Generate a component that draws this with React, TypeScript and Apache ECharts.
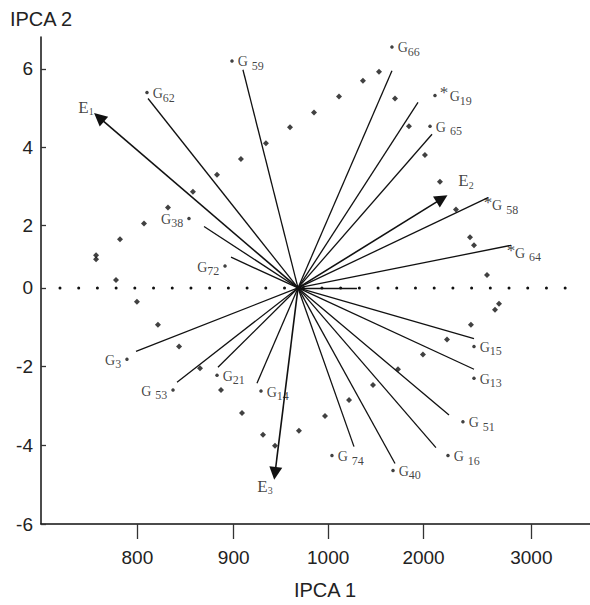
import React, { useEffect, useRef } from "react";
import * as echarts from "echarts";

// Axis ticks (the printed axis is not linear, so labels sit at fixed positions)
const xTickPos = [1.01, 2.02, 3.01, 4.01, 5.14];
const xTickLabels = ["800", "900", "1000", "2000", "3000"];
const yTickPos = [-6, -4, -2, 0, 1.59, 3.58, 5.57];
const yTickLabels = ["-6", "-4", "-2", "0", "2", "4", "6"];

// Biplot origin
const originX = 2.694;
const originY = 0;

// Genotypes
const gNames = ["G 59", "G62", "G38", "G72", "G66", "G19", "G 65", "G 58", "G 64", "G15", "G13", "G 51", "G 16", "G40", "G 74", "G3", "G 53", "G21", "G14"];
const gDotX = [2.002, 1.111, 1.551, 1.929, 3.679, 4.13, 4.078, 4.686, 4.927, 4.539, 4.539, 4.423, 4.266, 3.69, 3.05, 0.901, 1.384, 1.845, 2.306];
const gDotY = [5.77, 4.966, 1.765, 0.555, 6.126, 4.89, 4.109, 2.294, 1.084, -1.487, -2.294, -3.403, -4.26, -4.638, -4.26, -1.815, -2.596, -2.218, -2.622];
const gLineX = [2.117, 1.122, 1.709, 1.992, 3.679, 3.952, 4.099, 4.686, 4.927, 4.539, 4.539, 4.277, 4.14, 3.711, 3.281, 0.996, 1.426, 1.855, 2.264];
const gLineY = [5.546, 4.815, 1.563, 0.781, 5.521, 4.714, 3.907, 2.294, 1.084, -1.286, -2.067, -3.227, -4.058, -4.462, -4.033, -1.613, -2.395, -2.017, -2.42];
const gStarred = ["G 58", "G 64"];

// Asterisks
const starX = [4.224, 4.686, 4.927];
const starY = [5.092, 2.294, 1.084];

// Extra short segment along the horizontal axis
const axisSegEndX = 3.312;

// Environments
const envNames = ["E1", "E2", "E3"];
const envX = [0.608, 4.203, 2.453];
const envY = [4.336, 2.269, -4.714];
const envLabelX = [0.472, 4.455, 2.348];
const envLabelY = [4.588, 2.722, -5.042];

// Scatter of cross markers
const crossX = [2.61, 2.862, 3.124, 3.375, 3.543, 3.711, 3.857, 4.025, 4.182, 4.35, 4.497, 4.539, 4.675, 4.759, 4.801, 4.507, 4.256, 4.004, 3.742, 3.48, 3.229, 2.977, 2.704, 2.453, 2.327, 2.107, 1.887, 1.667, 1.447, 1.226, 1.006, 0.786, 0.577, 0.577, 0.828, 1.08, 1.331, 1.593, 1.845, 2.096, 2.358];
const crossY = [4.084, 4.462, 4.865, 5.268, 5.495, 4.815, 4.109, 3.378, 2.697, 1.991, 1.286, 1.084, 0.328, -0.555, -0.403, -0.933, -1.311, -1.689, -2.067, -2.47, -2.849, -3.252, -3.63, -4.008, -3.731, -3.176, -2.596, -2.042, -1.487, -0.933, -0.353, 0.202, 0.832, 0.731, 1.235, 1.639, 2.042, 2.445, 2.874, 3.277, 3.68];

// Dotted zero line extent
const zeroLineX = [0.199, 5.65];

const leftLabels = ["G38", "G72", "G3", "G 53"];
const labelDistance: Record<string, number> = { G19: 13 };
const labelOffset: Record<string, number[]> = { "G 58": [0, 8], "G 64": [0, 8] };

const SERIF = "'Liberation Serif', 'DejaVu Serif', serif";
const SANS = "'Liberation Sans', Arial, sans-serif";
const INK = "#111111";

function gRich(name: string) {
  const spaced = name.includes(" ");
  const num = name.replace("G", "").trim();
  return `{g|G}{${spaced ? "ss" : "s"}|${num}}`;
}

export default function App() {
  const ref = useRef<HTMLDivElement>(null);
  useEffect(() => {
    if (!ref.current) return;
    const chart = echarts.init(ref.current, null, { renderer: "svg" });
    const rich = {
      g: { fontFamily: SERIF, fontSize: 14, color: INK },
      s: { fontFamily: SERIF, fontSize: 12, color: INK, padding: [8, 0, 0, 0] },
      ss: { fontFamily: SERIF, fontSize: 12, color: INK, padding: [8, 0, 0, 4] },
      e: { fontFamily: SERIF, fontSize: 17, color: INK },
      es: { fontFamily: SERIF, fontSize: 10, color: INK, padding: [9, 0, 0, 0] },
    };
    const nearest = (arr: number[], v: number) => {
      let best = 0;
      arr.forEach((p, i) => {
        if (Math.abs(p - v) < Math.abs(arr[best] - v)) best = i;
      });
      return best;
    };
    chart.setOption({
      animation: false,
      grid: { left: 41, right: 0, top: 37, bottom: 77 },
      xAxis: {
        type: "value",
        min: 0,
        max: 5.755,
        name: "IPCA 1",
        nameLocation: "middle",
        nameGap: 56,
        nameTextStyle: { fontFamily: SANS, fontSize: 20, color: "#222", padding: [0, 0, 0, 19] },
        axisLine: { onZero: false, lineStyle: { color: INK, width: 1.5 } },
        axisTick: { show: true, inside: false, length: 15, customValues: xTickPos, lineStyle: { color: "#333333", width: 1.3 } },
        axisLabel: {
          customValues: xTickPos,
          margin: 24,
          fontFamily: SANS,
          fontSize: 19,
          color: "#222",
          formatter: (v: number) => xTickLabels[nearest(xTickPos, v)],
        },
        splitLine: { show: false },
      },
      yAxis: {
        type: "value",
        min: -6,
        max: 6.378,
        name: "IPCA 2",
        nameLocation: "end",
        nameGap: 8,
        nameTextStyle: { fontFamily: SANS, fontSize: 20, color: "#222", align: "center" },
        axisLine: { show: true, onZero: false, lineStyle: { color: INK, width: 1.5 } },
        axisTick: { show: true, inside: true, length: 5, customValues: yTickPos, lineStyle: { color: "#333333", width: 1.3 } },
        axisLabel: {
          customValues: yTickPos,
          margin: 8,
          fontFamily: SANS,
          fontSize: 19,
          color: "#222",
          formatter: (v: number) => yTickLabels[nearest(yTickPos, v)],
        },
        splitLine: { show: false },
      },
      series: [
        {
          type: "line",
          data: [[zeroLineX[0], originY], [zeroLineX[1], originY]],
          symbol: "none",
          lineStyle: { color: INK, width: 3, type: [0.01, 18.7], cap: "round" },
          silent: true,
        },
        {
          type: "lines",
          coordinateSystem: "cartesian2d",
          symbol: ["none", "none"],
          lineStyle: { color: INK, width: 1.3, opacity: 1 },
          data: [
            ...gNames.map((_, i) => ({ coords: [[originX, originY], [gLineX[i], gLineY[i]]] })),
            { coords: [[originX, originY], [axisSegEndX, originY]] },
          ],
          silent: true,
        },
        {
          type: "lines",
          coordinateSystem: "cartesian2d",
          symbol: ["none", "triangle"],
          symbolSize: 13,
          lineStyle: { color: INK, width: 1.6, opacity: 1 },
          data: envNames.map((_, i) => ({ coords: [[originX, originY], [envX[i], envY[i]]] })),
          silent: true,
        },
        {
          type: "scatter",
          data: crossX.map((x, i) => [x, crossY[i]]),
          symbol: "diamond",
          symbolSize: 6,
          itemStyle: { color: INK },
          silent: true,
        },
        {
          type: "scatter",
          data: gNames.map((n, i) => {
            const left = leftLabels.includes(n);
            return {
              value: [gDotX[i], gDotY[i]],
              name: n,
              symbolSize: gStarred.includes(n) ? 0 : 3.5,
              label: {
                show: true,
                position: left ? "left" : "right",
                distance: labelDistance[n.replace(" ", "")] ?? 4,
                offset: labelOffset[n] ?? [0, 1],
                formatter: gRich(n),
                color: INK,
                textBorderWidth: 0,
                rich,
              },
            };
          }),
          symbol: "circle",
          itemStyle: { color: INK },
          silent: true,
        },
        {
          type: "scatter",
          data: starX.map((x, i) => [x, starY[i]]),
          symbolSize: 0,
          label: {
            show: true,
            position: "inside",
            formatter: "*",
            fontFamily: SERIF,
            fontSize: 17,
            color: INK,
            textBorderWidth: 0,
            offset: [0, 5],
          },
          silent: true,
        },
        {
          type: "scatter",
          data: envNames.map((n, i) => ({ value: [envLabelX[i], envLabelY[i]], name: n })),
          symbolSize: 0,
          label: {
            show: true,
            position: "inside",
            color: INK,
            textBorderWidth: 0,
            formatter: (p: any) => `{e|E}{es|${p.name.slice(1)}}`,
            rich,
          },
          silent: true,
        },
      ],
    });
    return () => chart.dispose();
  }, []);
  return <div ref={ref} style={{ width: 590, height: 605, position: "absolute", left: 0, top: 0 }} />;
}
